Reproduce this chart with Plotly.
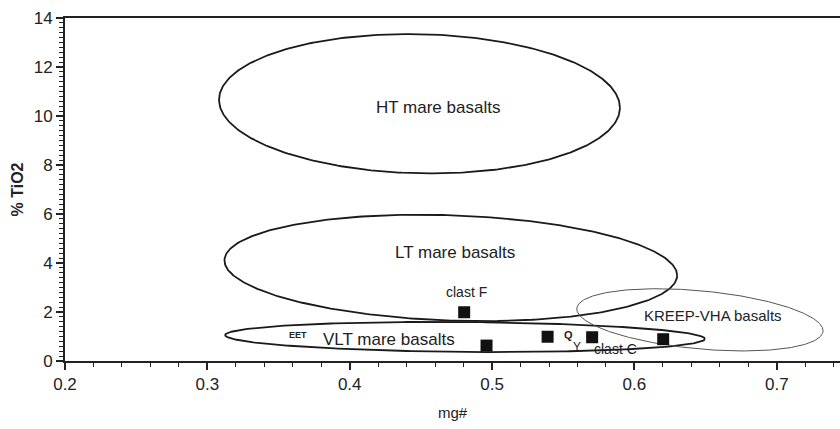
import numpy as np
import plotly.graph_objects as go

# ---- data ----
field_names = ["HT mare basalts", "LT mare basalts", "VLT mare basalts", "KREEP-VHA basalts"]
field_cx = [0.449, 0.471, 0.481, 0.646]
field_cy = [10.50, 3.80, 0.98, 1.68]
field_ax = [0.1408, 0.159, 0.1685, 0.0865]
field_by = [2.84, 2.15, 0.61, 1.19]
field_shear = [-1.14, -1.92, -0.47, -5.14]
field_lw = [1.8, 1.8, 1.8, 1.0]
field_col = ["#1a1a1a", "#1a1a1a", "#1a1a1a", "#555555"]

label_x = [0.462, 0.474, 0.4275, 0.655]
label_y = [10.33, 4.41, 0.86, 1.84]
label_size = [17, 17, 17, 15]

sample_mg = [0.4804, 0.4961, 0.539, 0.5703, 0.6202]
sample_ti = [1.99, 0.63, 0.99, 0.97, 0.89]

ann_text = ["clast F", "clast C", "EET", "Q", "Y"]
ann_x = [0.4823, 0.587, 0.3636, 0.5539, 0.5598]
ann_y = [2.83, 0.48, 1.06, 1.06, 0.58]
ann_size = [14, 14, 9, 11, 12]
ann_bold = [False, False, True, True, False]

x_range = [0.2, 0.7444]
y_range = [0, 14]

fig = go.Figure()
t = np.linspace(0, 2 * np.pi, 361)
for i in range(len(field_names)):
    dx = field_ax[i] * np.cos(t)
    xs = field_cx[i] + dx
    ys = field_cy[i] + field_by[i] * np.sin(t) + field_shear[i] * dx
    fig.add_trace(go.Scatter(x=xs, y=ys, mode="lines",
                             line=dict(color=field_col[i], width=field_lw[i]),
                             hoverinfo="skip", showlegend=False))

fig.add_trace(go.Scatter(x=sample_mg, y=sample_ti, mode="markers",
                         marker=dict(symbol="square", size=12, color="#111111"),
                         showlegend=False))

font_fam = "Liberation Sans, Arial, sans-serif"
for i, name in enumerate(field_names):
    fig.add_annotation(x=label_x[i], y=label_y[i], text=name, showarrow=False,
                       font=dict(family=font_fam, size=label_size[i], color="#222222"))
for i, txt in enumerate(ann_text):
    s = f"<b>{txt}</b>" if ann_bold[i] else txt
    fig.add_annotation(x=ann_x[i], y=ann_y[i], text=s, showarrow=False,
                       font=dict(family=font_fam, size=ann_size[i], color="#222222"))

fig.update_layout(
    width=840, height=429,
    margin=dict(l=65, r=0, t=18, b=68),
    paper_bgcolor="white", plot_bgcolor="white",
    font=dict(family=font_fam, size=15, color="#222222"),
    xaxis=dict(range=x_range, tickmode="linear", dtick=0.1, tick0=0.2, showgrid=False, zeroline=False,
               showline=True, linecolor="#222222", linewidth=2, mirror=True,
               ticks="outside", ticklen=7, tickwidth=1.5, tickcolor="#222222",
               minor=dict(dtick=0.02, ticks="outside", ticklen=4, tickwidth=1.2,
                          tickcolor="#222222", showgrid=False),
               title=dict(text="mg#", font=dict(size=15), standoff=14),
               tickfont=dict(size=17)),
    yaxis=dict(range=y_range, tickmode="linear", dtick=2, tick0=0, showgrid=False, zeroline=False,
               showline=True, linecolor="#222222", linewidth=2,
               ticks="outside", ticklen=7, tickwidth=1.5, tickcolor="#222222",
               minor=dict(dtick=0.2, ticks="outside", ticklen=4, tickwidth=1.2,
                          tickcolor="#222222", showgrid=False),
               title=dict(text="<b>% TiO2</b>", font=dict(size=16), standoff=6),
               tickfont=dict(size=17)),
)

fig.write_html("out.html")
